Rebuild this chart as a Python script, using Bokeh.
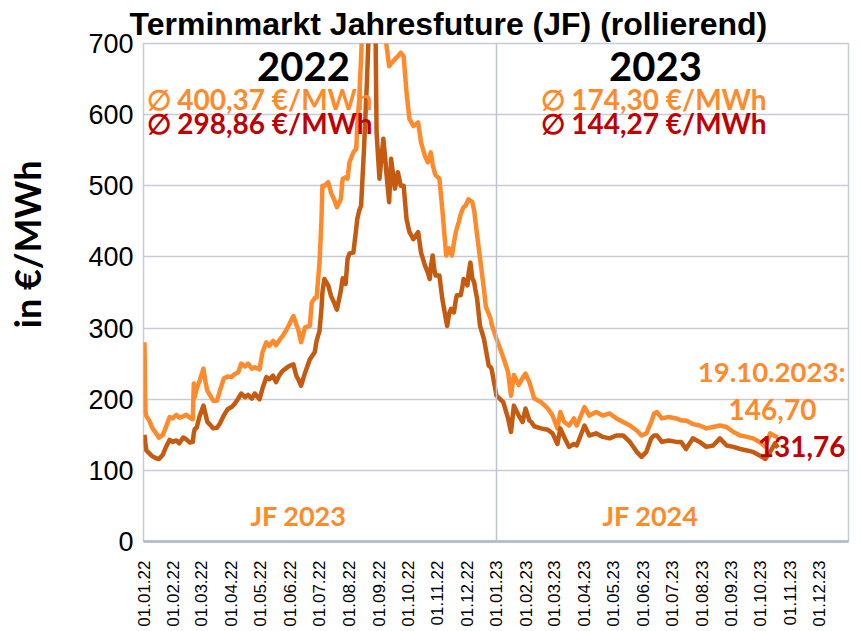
import math
from datetime import datetime
import pandas as pd
from bokeh.plotting import figure
from bokeh.models import (ColumnDataSource, Range1d, FixedTicker, DatetimeTickFormatter,
                          Label, Span)
from bokeh.embed import file_html
from bokeh.resources import INLINE

# ---------------- data ----------------
dates = [
    "2022-01-02", "2022-01-03", "2022-01-04", "2022-01-07", "2022-01-10", "2022-01-14",
    "2022-01-17", "2022-01-21", "2022-01-24", "2022-01-28", "2022-01-31",
    "2022-02-04", "2022-02-07", "2022-02-11", "2022-02-14", "2022-02-18", "2022-02-21",
    "2022-02-22", "2022-02-23", "2022-02-25", "2022-02-28",
    "2022-03-04", "2022-03-06", "2022-03-08", "2022-03-11", "2022-03-14", "2022-03-18",
    "2022-03-21", "2022-03-25", "2022-03-29",
    "2022-04-02", "2022-04-05", "2022-04-09", "2022-04-12", "2022-04-16", "2022-04-19",
    "2022-04-23", "2022-04-26",
    "2022-05-01", "2022-05-04", "2022-05-08", "2022-05-11", "2022-05-15", "2022-05-18",
    "2022-05-22", "2022-05-25", "2022-05-29",
    "2022-06-01", "2022-06-05", "2022-06-08", "2022-06-10", "2022-06-13", "2022-06-17",
    "2022-06-22", "2022-06-24", "2022-06-27", "2022-06-29",
    "2022-07-02", "2022-07-04", "2022-07-05", "2022-07-07", "2022-07-11", "2022-07-14",
    "2022-07-17", "2022-07-20", "2022-07-24", "2022-07-26", "2022-07-29", "2022-07-31",
    "2022-08-02", "2022-08-06", "2022-08-09", "2022-08-10", "2022-08-12", "2022-08-14",
    "2022-08-17", "2022-08-20", "2022-08-22", "2022-08-23", "2022-08-24", "2022-08-27",
    "2022-08-28", "2022-08-29", "2022-08-30",
    "2022-09-02", "2022-09-06", "2022-09-08", "2022-09-09", "2022-09-12", "2022-09-14",
    "2022-09-18", "2022-09-21", "2022-09-24", "2022-09-27", "2022-09-30",
    "2022-10-03", "2022-10-07", "2022-10-12", "2022-10-15", "2022-10-19", "2022-10-22",
    "2022-10-24", "2022-10-25", "2022-10-27", "2022-10-29", "2022-10-30",
    "2022-11-03", "2022-11-06", "2022-11-10", "2022-11-11", "2022-11-13", "2022-11-15",
    "2022-11-16", "2022-11-18", "2022-11-20", "2022-11-21", "2022-11-23", "2022-11-25",
    "2022-11-27", "2022-11-28", "2022-11-30",
    "2022-12-02", "2022-12-03", "2022-12-05", "2022-12-07", "2022-12-09", "2022-12-10",
    "2022-12-12", "2022-12-15", "2022-12-19", "2022-12-21", "2022-12-24", "2022-12-26",
    "2022-12-27",
    "2023-01-01", "2023-01-08", "2023-01-13", "2023-01-16", "2023-01-19", "2023-01-24",
    "2023-01-28", "2023-01-31",
    "2023-02-04", "2023-02-06", "2023-02-09", "2023-02-16", "2023-02-23", "2023-02-28",
    "2023-03-05", "2023-03-08", "2023-03-12", "2023-03-17", "2023-03-22", "2023-03-25",
    "2023-04-02", "2023-04-07", "2023-04-14", "2023-04-21", "2023-04-28",
    "2023-05-05", "2023-05-12", "2023-05-19", "2023-05-26", "2023-05-31",
    "2023-06-05", "2023-06-10", "2023-06-13", "2023-06-16", "2023-06-21", "2023-06-28",
    "2023-07-06", "2023-07-11", "2023-07-16", "2023-07-23", "2023-07-30",
    "2023-08-06", "2023-08-13", "2023-08-20", "2023-08-27",
    "2023-09-03", "2023-09-10", "2023-09-17", "2023-09-23", "2023-09-30",
    "2023-10-06", "2023-10-11", "2023-10-16", "2023-10-19",
]

# JF Peak (light orange line), EUR/MWh
jf_peak = [
    280, 182, 176, 170, 160, 152,
    146, 150, 160, 175, 173,
    178, 174, 176, 178, 174, 172,
    222, 203, 215, 226,
    243, 225, 212, 205, 198, 198,
    212, 229, 232,
    231, 235, 238, 250, 246, 250,
    243, 245,
    242, 266, 280, 275, 282, 276,
    284, 289, 298,
    306, 317, 305, 298, 280, 301,
    303, 336, 342, 343,
    392, 450, 500, 500, 505, 490,
    481, 470, 481, 510, 512, 510,
    533, 547, 552, 584, 621, 680,
    780, 900, 1000, 1150, 1300, 1050,
    900, 850, 820,
    800, 770, 720, 700, 668, 672,
    678, 682, 687, 682, 631,
    594, 584, 589, 561, 542, 533,
    540, 547, 530, 519, 515,
    510, 467, 402, 405, 412, 405,
    402, 420, 435, 440, 449, 460,
    467, 470, 472,
    478, 481, 479, 477, 465, 453,
    430, 398, 355, 330, 320, 313,
    305,
    285, 259, 238, 205, 234, 220,
    230, 236,
    224, 215, 201, 196, 187, 177,
    159, 182, 168, 163, 173, 163,
    189, 177, 182, 177, 180,
    173, 168, 163, 156, 149,
    152, 168, 180, 182, 173, 175,
    173, 170, 170, 165, 163,
    159, 161, 163, 161,
    154, 149, 147, 145, 140,
    133, 152, 148, 146.70,
]

# JF Base (dark orange line), EUR/MWh
jf_base = [
    150, 138, 128, 124, 120, 117,
    116, 122, 132, 143, 140,
    142, 138, 146, 144, 139, 140,
    152, 158, 160, 176,
    191, 180, 168, 164, 159, 160,
    166, 177, 186,
    189, 193, 201, 208, 203, 206,
    201, 208,
    200, 215, 231, 228, 233, 224,
    235, 240, 244,
    247, 249, 233, 228, 219, 237,
    256, 260, 266, 282,
    296, 327, 350, 369, 360, 345,
    336, 326, 352, 370, 362, 397,
    405, 406, 440, 453, 465, 472,
    552, 645, 720, 850, 985, 800,
    720, 710, 575,
    510, 566, 538, 520, 477, 538,
    496, 519, 500, 500, 453,
    435, 425, 435, 406, 388, 378,
    369, 385, 402, 380, 374,
    374, 341, 310, 303, 320, 327,
    325, 322, 340, 346, 346, 346,
    360, 369, 365,
    360, 375, 392, 370, 364, 355,
    341, 303, 285, 270, 247, 245,
    242,
    205, 196, 173, 154, 191, 177,
    168, 187,
    170, 168, 162, 159, 157, 152,
    137, 159, 147, 133, 137, 135,
    163, 149, 152, 147, 145,
    149, 149, 140, 126, 119,
    126, 145, 149, 149, 140, 142,
    140, 140, 130, 145, 140,
    133, 135, 145, 135,
    133, 130, 128, 126, 121,
    116, 126, 138, 131.76,
]

x_tick_dates = [
    "2022-01-01", "2022-02-01", "2022-03-01", "2022-04-01", "2022-05-01", "2022-06-01",
    "2022-07-01", "2022-08-01", "2022-09-01", "2022-10-01", "2022-11-01", "2022-12-01",
    "2023-01-01", "2023-02-01", "2023-03-01", "2023-04-01", "2023-05-01", "2023-06-01",
    "2023-07-01", "2023-08-01", "2023-09-01", "2023-10-01", "2023-11-01", "2023-12-01",
]
y_ticks = [0, 100, 200, 300, 400, 500, 600, 700]

title_text = "Terminmarkt Jahresfuture (JF) (rollierend)"
year_labels = ["2022", "2023"]
avg_peak_labels = ["\u2205 400,37 \u20ac/MWh", "\u2205 174,30 \u20ac/MWh"]
avg_base_labels = ["\u2205 298,86 \u20ac/MWh", "\u2205 144,27 \u20ac/MWh"]
contract_labels = ["JF 2023", "JF 2024"]
last_date_label = "19.10.2023:"
last_peak_label = "146,70"
last_base_label = "131,76"
y_axis_title = "in \u20ac/MWh"

# ---------------- styling ----------------
ORANGE = "#FF8A2B"
DARK = "#C55A11"
RED = "#C00000"
GRID = "#C5CCD5"
NUM_FONT = "Liberation Sans"
ANN_FONT = "Lato"

df = pd.DataFrame({"date": pd.to_datetime(dates), "peak": jf_peak, "base": jf_base})
src = ColumnDataSource(df)

p = figure(
    width=858, height=629,
    x_axis_type="datetime",
    x_range=Range1d(datetime(2022, 1, 1), datetime(2023, 12, 31)),
    y_range=Range1d(0, 700),
    output_backend="svg", toolbar_location=None,
    min_border_left=143, min_border_right=10, min_border_top=43, min_border_bottom=88,
    background_fill_color="white", border_fill_color="white",
)

p.title.text = title_text
p.title.text_font = NUM_FONT
p.title.text_font_size = "32px"
p.title.text_font_style = "bold"
p.title.text_color = "black"
p.title.align = "left"
p.title.offset = -14
p.title.standoff = 3

p.line("date", "peak", source=src, line_color=ORANGE, line_width=4.5, line_join="round")
p.line("date", "base", source=src, line_color=DARK, line_width=4.5, line_join="round")

tick_ms = [int(t.value // 10**6) for t in pd.to_datetime(x_tick_dates)]
p.xaxis.ticker = FixedTicker(ticks=tick_ms)
fmt = "%d.%m.%y"
p.xaxis.formatter = DatetimeTickFormatter(days=fmt, months=fmt, years=fmt, hours=fmt,
                                          hourmin=fmt, minutes=fmt, minsec=fmt, seconds=fmt,
                                          milliseconds=fmt, microseconds=fmt)
p.xaxis.major_label_orientation = math.pi / 2
p.xaxis.major_label_text_font = NUM_FONT
p.xaxis.major_label_text_font_size = "17px"
p.xaxis.major_label_text_color = "black"
p.xaxis.major_label_standoff = 13
p.xaxis.major_tick_line_color = None
p.xaxis.minor_tick_line_color = None
p.xaxis.axis_line_color = "#B8C0CB"
p.xaxis.axis_line_width = 3

p.yaxis.ticker = FixedTicker(ticks=y_ticks)
p.yaxis.major_label_text_font = NUM_FONT
p.yaxis.major_label_text_font_size = "27px"
p.yaxis.major_label_text_color = "black"
p.yaxis.major_label_standoff = 4
p.yaxis.major_tick_line_color = None
p.yaxis.minor_tick_line_color = None
p.yaxis.axis_line_color = None
# axis title: leading no-break spaces lift the visible text above the frame centre
p.yaxis.axis_label = "\u00a0" * 11 + y_axis_title
p.yaxis.axis_label_text_font = ANN_FONT
p.yaxis.axis_label_text_font_size = "36px"
p.yaxis.axis_label_text_font_style = "bold"
p.yaxis.axis_label_text_color = "black"
p.yaxis.axis_label_standoff = 36

p.xgrid.visible = False
p.ygrid.ticker = FixedTicker(ticks=y_ticks)
p.ygrid.grid_line_color = GRID
p.ygrid.grid_line_width = 1.5
p.outline_line_color = GRID
p.outline_line_width = 1.5

p.add_layout(Span(location=datetime(2023, 1, 1), dimension="height",
                  line_color="#BCC3CC", line_width=1.5))


def lab(x, y, text, size, color, font=ANN_FONT, style="bold", align="center", angle=0.0):
    p.add_layout(Label(x=x, y=y, x_units="screen", y_units="screen", text=text,
                       text_font=font, text_font_size=size, text_font_style=style,
                       text_color=color, text_align=align, text_baseline="middle",
                       angle=angle))


# positions are relative to the plot frame (left, bottom)
lab(160, 475, year_labels[0], "40px", "black")
lab(512, 475, year_labels[1], "40px", "black")
lab(3, 443, avg_peak_labels[0], "28px", ORANGE, align="left")
lab(3, 419, avg_base_labels[0], "28px", RED, align="left")
lab(397, 443, avg_peak_labels[1], "28px", ORANGE, align="left")
lab(397, 419, avg_base_labels[1], "28px", RED, align="left")
lab(155, 26, contract_labels[0], "27px", ORANGE)
lab(507, 26, contract_labels[1], "27px", ORANGE)
lab(702, 170, last_date_label, "27.5px", ORANGE, align="right")
lab(629, 132, last_peak_label, "28px", ORANGE)
lab(702, 95, last_base_label, "28px", RED, align="right")

open("out.html", "w").write(file_html(p, INLINE))
